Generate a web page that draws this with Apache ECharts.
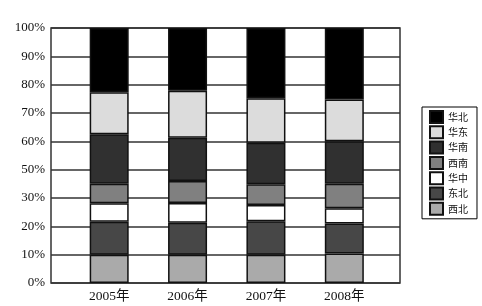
<!DOCTYPE html>
<html><head><meta charset="utf-8">
<script src="https://cdn.jsdelivr.net/npm/echarts@6/dist/echarts.min.js"></script>
<style>html,body{margin:0;padding:0;background:#fff}#c{width:482px;height:306px}</style>
</head><body><div id="c"></div>
<script>
const years = ['2005年', '2006年', '2007年', '2008年'];
const tickLabels = ['0%', '10%', '20%', '30%', '50%', '60%', '70%', '80%', '90%', '100%'];
// shares of each bar (percent of full bar)
const xibei   = [11.1, 11.1, 11.1, 11.6];
const dongbei = [12.9, 12.5, 13.1, 11.7];
const huazhong= [7.3, 7.8, 6.4, 6.0];
const xinan   = [7.6, 8.6, 8.1, 9.6];
const huanan  = [19.4, 17.0, 16.3, 16.7];
const huadong = [16.5, 18.4, 17.5, 16.4];
const huabei  = [25.2, 24.6, 27.5, 28.0];
const names = ['西北', '东北', '华中', '西南', '华南', '华东', '华北'];
const colors = ['#aaaaaa', '#474747', '#ffffff', '#808080', '#303030', '#dcdcdc', '#000000'];
const values = [xibei, dongbei, huazhong, xinan, huanan, huadong, huabei];
const units = tickLabels.length - 1; // axis spans full bar
const font = "'Liberation Serif', 'Noto Sans CJK SC', serif";
const chart = echarts.init(document.getElementById('c'));
chart.setOption({
  animation: false,
  backgroundColor: '#fff',
  grid: [
    {left: 51, right: 82, top: 28, bottom: 23, show: true, borderColor: '#333', borderWidth: 1.5, backgroundColor: '#fff'},
    {left: 70, right: 98.5, top: 28, bottom: 23}
  ],
  xAxis: [
    {gridIndex: 0, type: 'value', min: 0, max: 1, show: false},
    {gridIndex: 1, type: 'category', data: years, axisLine: {show: false}, axisTick: {show: false},
     axisLabel: {fontFamily: font, fontSize: 13.5, color: '#111', margin: 7}}
  ],
  yAxis: [
    {gridIndex: 0, type: 'value', min: 0, max: units, interval: 1,
     axisLine: {show: false}, axisTick: {show: false},
     splitLine: {lineStyle: {color: '#333', width: 1.5}},
     axisLabel: {fontFamily: font, fontSize: 13, color: '#111', margin: 6,
       formatter: v => tickLabels[Math.round(v)]}},
    {gridIndex: 1, type: 'value', min: 0, max: units, show: false}
  ],
  legend: {
    orient: 'vertical', left: 422, top: 107,
    data: names.slice().reverse(),
    itemWidth: 13, itemHeight: 12, itemGap: 1.3, icon: 'rect',
    borderColor: '#000', borderWidth: 1, padding: [3, 9, 3, 7],
    textStyle: {fontFamily: "'Noto Sans CJK SC', serif", fontSize: 10, lineHeight: 12, color: '#111'}
  },
  series: names.map((n, i) => ({
    name: n, type: 'bar', stack: 'total', xAxisIndex: 1, yAxisIndex: 1,
    barWidth: 39,
    itemStyle: {color: colors[i], borderColor: '#111', borderWidth: 1.5},
    data: values[i].map(v => v * units / 100)
  }))
});
</script></body></html>
